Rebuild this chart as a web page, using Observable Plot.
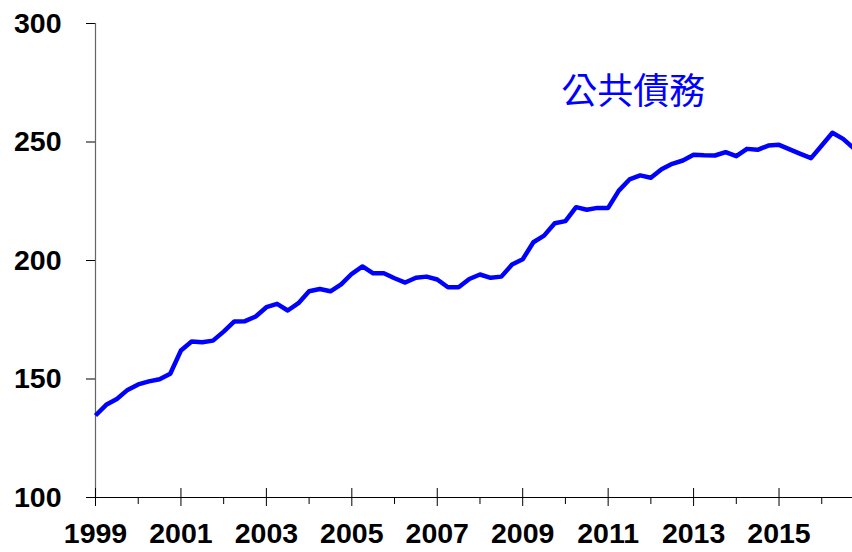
<!DOCTYPE html>
<html>
<head>
<meta charset="utf-8">
<script src="https://cdn.jsdelivr.net/npm/d3@7"></script>
<script src="https://cdn.jsdelivr.net/npm/@observablehq/plot@0.6"></script>
<style>
  html, body { margin: 0; padding: 0; background: #fff; overflow: hidden; }
</style>
</head>
<body>
<div id="chart"></div>
<script>
// Quarterly public debt index, 1999Q1 onwards
const startYear = 1999;
const debt = [
  134.6, 139.1, 141.6, 145.4, 147.7, 149.0, 149.9, 152.2,
  162.0, 165.8, 165.5, 166.2, 170.0, 174.3, 174.4, 176.4,
  180.3, 181.7, 178.9, 182.0, 187.0, 188.0, 187.0, 189.9,
  194.4, 197.5, 194.6, 194.6, 192.5, 190.7, 192.7, 193.2,
  192.0, 188.7, 188.7, 192.2, 194.1, 192.7, 193.2, 198.3,
  200.5, 207.7, 210.5, 215.7, 216.6, 222.5, 221.4, 222.2,
  222.2, 229.5, 234.2, 235.9, 234.9, 238.5, 240.8, 242.2,
  244.6, 244.4, 244.3, 245.7, 244.0, 247.1, 246.7, 248.5,
  248.8, 246.9, 245.0, 243.2, 248.5, 253.9, 251.3, 247.3
];
const labelYears = [1999, 2001, 2003, 2005, 2007, 2009, 2011, 2013, 2015];
const minorYears = [2000, 2002, 2004, 2006, 2008, 2010, 2012, 2014, 2016];
const yTicks = [100, 150, 200, 250, 300];
const seriesLabel = ["公共債務"];

const data = debt.map((v, i) => ({ t: startYear + i / 4, v }));

const latin = "'Liberation Sans', Arial, Helvetica, sans-serif";
const blue = "#0000FF";

const chart = Plot.plot({
  width: 852,
  height: 552,
  marginLeft: 95,
  marginRight: 0,
  marginTop: 23,
  marginBottom: 55,
  style: { fontFamily: latin, background: "#fff", color: "#000" },
  x: { domain: [1999, 2016.72] },
  y: { domain: [100, 300] },
  marks: [
    Plot.axisY({
      ticks: yTicks, tickSize: 9, tickPadding: 25, label: null,
      fontSize: 28.5, fontWeight: "bold", tickFormat: d => String(d)
    }),
    Plot.ruleX([1999], { stroke: "#666", strokeWidth: 1.2 }),
    Plot.ruleY([100], { stroke: "#000", strokeWidth: 1.2 }),
    Plot.axisX({ ticks: labelYears, tickSize: 18, dy: -9, tickFormat: () => "", label: null }),
    Plot.axisX({ ticks: minorYears, tickSize: 7, tickFormat: () => "", label: null }),
    Plot.axisX({
      ticks: labelYears, tickSize: 0, tickPadding: 25, label: null,
      fontSize: 28.5, fontWeight: "bold", tickFormat: d => String(d)
    }),
    Plot.line(data, {
      x: "t", y: "v", stroke: blue, strokeWidth: 4.5,
      strokeLinejoin: "round", strokeLinecap: "butt"
    }),
    Plot.text(seriesLabel, {
      x: () => 2009.9, y: () => 271, text: d => d,
      textAnchor: "start", lineAnchor: "middle",
      fontSize: 36, fill: blue, fontFamily: "'Noto Sans CJK TC', 'Noto Sans CJK SC', sans-serif"
    })
  ]
});
document.getElementById("chart").appendChild(chart);
</script>
</body>
</html>
